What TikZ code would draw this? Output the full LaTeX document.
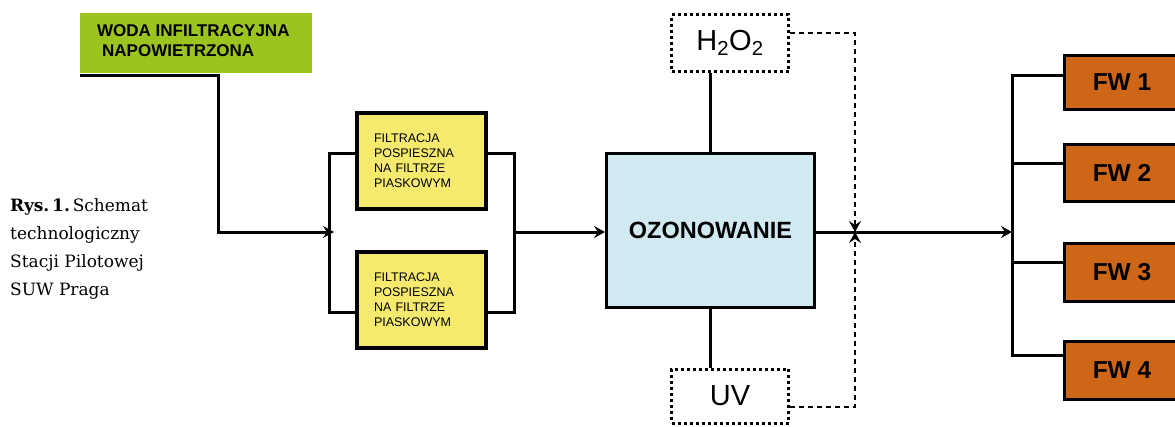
\documentclass[tikz,border=0pt]{standalone}
\usepackage{fontspec}
\setmainfont{Liberation Sans}
\newfontfamily\capfont{DejaVu Serif}
\usetikzlibrary{arrows.meta}
\definecolor{cgreen}{RGB}{155,196,30}
\definecolor{cyellow}{RGB}{245,234,110}
\definecolor{cblue}{RGB}{209,234,241}
\definecolor{corange}{RGB}{205,102,22}
\tikzset{
  pipe/.style={line width=3pt},
  arr/.style={-{Stealth[length=11pt,width=12pt,inset=4pt]}},
  darr/.style={line width=1.4pt,dash pattern=on 5pt off 4pt,-{Stealth[length=11pt,width=12pt,inset=4pt]}},
  filterbox/.style={draw,line width=3.5pt,fill=cyellow,minimum width=129pt,minimum height=96pt,
    text width=95pt,align=left,inner sep=0pt,font=\fontsize{12.5}{15}\selectfont},
  dotbox/.style={draw,line width=3pt,dash pattern=on 3pt off 3pt,minimum width=117pt,inner sep=0pt,
    font=\fontsize{29}{32}\selectfont},
  fwbox/.style={draw,line width=3pt,fill=corange,minimum width=116pt,inner sep=0pt,
    font=\bfseries\fontsize{24.5}{28}\selectfont}
}
\begin{document}
\begin{tikzpicture}[x=1pt,y=-1pt]
\useasboundingbox (0,0) rectangle (1175,426);
\clip (0,0) rectangle (1175,426);

% source
\node[fill=cgreen,minimum width=232pt,minimum height=60pt,anchor=north west,inner sep=0pt] (src) at (80,13) {};
\node[anchor=west,align=left,inner sep=0pt,font=\bfseries\fontsize{17}{20}\selectfont] (srctxt) at (97,41)
  {WODA INFILTRACYJNA\\\hspace*{5pt}NAPOWIETRZONA};

% filters
\node[filterbox] (f1) at (421.5,161) {FILTRACJA\\POSPIESZNA\\NA FILTRZE\\PIASKOWYM};
\node[filterbox] (f2) at (421.5,300) {FILTRACJA\\POSPIESZNA\\NA FILTRZE\\PIASKOWYM};

% ozonation
\node[draw,line width=3pt,fill=cblue,minimum width=208pt,minimum height=154pt,inner sep=0pt,
  font=\bfseries\fontsize{23.5}{26}\selectfont] (ozon) at (710.5,230.5) {OZONOWANIE};

% H2O2 and UV
\node[dotbox,minimum height=57pt] (h2o2) at (730,43) {H\textsubscript{2}O\textsubscript{2}};
\node[dotbox,minimum height=54pt,text depth=0pt] (uv) at (730,396) {UV};

% FW boxes
\node[fwbox,minimum height=54pt] (fw1) at (1122,82) {FW 1};
\node[fwbox,minimum height=57pt] (fw2) at (1122,172.5) {FW 2};
\node[fwbox,minimum height=58pt] (fw3) at (1122,272) {FW 3};
\node[fwbox,minimum height=58pt] (fw4) at (1122,370) {FW 4};

% caption
\node[anchor=north west,align=left,inner sep=0pt,font=\capfont\fontsize{17}{28}\selectfont] (cap) at (10,198)
  {\textbf{Rys.\,1.}\,Schemat\\technologiczny\\Stacji Pilotowej\\SUW Praga};

% coordinates
\coordinate (k1) at (218,75);
\coordinate (j1) at (334,232);
\coordinate (b1t) at (329,153);
\coordinate (b1b) at (329,312);
\coordinate (b2t) at (514,153);
\coordinate (b2b) at (514,312);
\coordinate (j2) at (855,232);
\coordinate (h2r) at (855,33);
\coordinate (uvr) at (855,407);
\coordinate (j3) at (1012,232);
\coordinate (b3t) at (1012,75);
\coordinate (b3a) at (1012,163);
\coordinate (b3c) at (1012,262);
\coordinate (b3b) at (1012,355);

% connectors
\draw[pipe,arr] (src.south west |- 0,75) -- (k1) |- (j1);
\draw[pipe] (f1.west |- b1t) -- (b1t) -- (b1b) -- (f2.west |- b1b);
\draw[pipe] (f1.east |- b2t) -- (b2t) -- (b2b) -- (f2.east |- b2b);
\draw[pipe,arr] (b2t |- j1) -- (ozon.west |- j1);
\draw[pipe] (ozon.north) -- (ozon.north |- h2o2.south);
\draw[pipe] (ozon.south) -- (ozon.south |- uv.north);
\draw[pipe,arr] (ozon.east |- j1) -- (j3);
\draw[darr] (h2o2.east |- h2r) -- (h2r) -- (j2);
\draw[darr] (uv.east |- uvr) -- (uvr) -- (j2);
\draw[pipe] (b3t -| fw1.west) -- (b3t) -- (b3b) -- (b3b -| fw4.west);
\draw[pipe] (b3a) -- (b3a -| fw2.west);
\draw[pipe] (b3c) -- (b3c -| fw3.west);
\end{tikzpicture}
\end{document}
